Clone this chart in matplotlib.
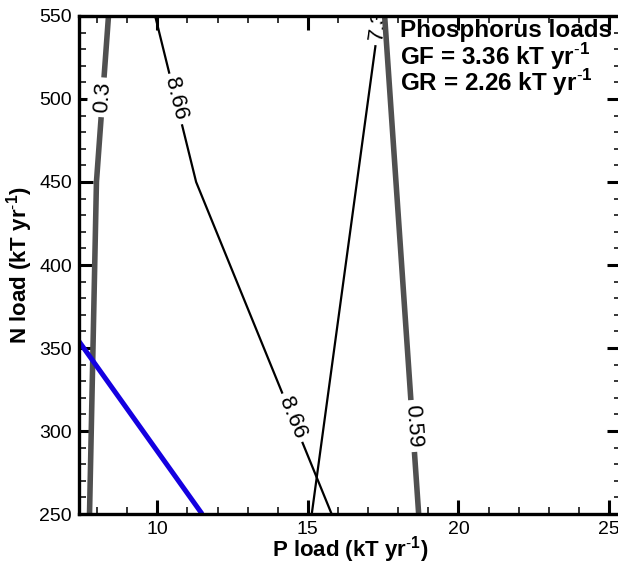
import numpy as np
import matplotlib
matplotlib.use("Agg")
import matplotlib.pyplot as plt
from matplotlib.ticker import MultipleLocator

plt.rcParams['font.family'] = ['Liberation Sans', 'DejaVu Sans']
plt.rcParams['mathtext.fontset'] = 'custom'
plt.rcParams['mathtext.rm'] = 'Liberation Sans'
plt.rcParams['mathtext.bf'] = 'Liberation Sans:bold'

# contour traces: P load (x) vs N load (y)
p_03 = [7.75, 7.98, 8.38]
n_03 = [250, 450, 550]
p_866 = [15.79, 11.29, 9.93]
n_866 = [250, 450, 550]
p_7 = [15.13, 17.38]
n_7 = [250, 550]
p_059 = [18.68, 17.55]
n_059 = [250, 550]
p_blue = [7.40, 11.49]
n_blue = [354, 250]

# (value text, line x, line y, N position of label)
labels = [
    ("0.3", p_03, n_03, 501),
    ("8.66", p_866, n_866, 500),
    ("8.66", p_866, n_866, 308),
    ("7.38", p_7, n_7, 548),
    ("0.59", p_059, n_059, 303),
]

fig = plt.figure(figsize=(6.18, 5.63), dpi=100)
ax = fig.add_axes([0.1278, 0.0870, 0.8771, 0.8846])
ax.set_xlim(7.4, 25.4)
ax.set_ylim(250, 550)

gray = '#505050'
ax.plot(p_866, n_866, color='black', lw=1.6, zorder=2)
ax.plot(p_7, n_7, color='black', lw=1.6, zorder=2)
ax.plot(p_03, n_03, color=gray, lw=4.0, zorder=2.4, solid_capstyle='butt')
ax.plot(p_059, n_059, color=gray, lw=4.0, zorder=2.4, solid_capstyle='butt')
ax.plot(p_blue, n_blue, color='#1400e0', lw=3.6, zorder=2.45, solid_capstyle='butt')


def place_label(txt, xs, ys, n, z):
    xs = np.asarray(xs, float)
    ys = np.asarray(ys, float)
    order = np.argsort(ys)
    x = np.interp(n, ys[order], xs[order])
    i = np.searchsorted(ys[order], n)
    i = min(max(i, 1), len(ys) - 1)
    a = ax.transData.transform((xs[order][i - 1], ys[order][i - 1]))
    b = ax.transData.transform((xs[order][i], ys[order][i]))
    ang = np.degrees(np.arctan2(b[1] - a[1], b[0] - a[0]))
    if ang > 90:
        ang -= 180
    elif ang < -90:
        ang += 180
    ax.text(x, n, txt, rotation=ang, rotation_mode='anchor', ha='center', va='center',
            fontsize=16, zorder=z, clip_on=True,
            bbox=dict(boxstyle='square,pad=0.2', fc='white', ec='none'))


for txt, xs, ys, n in labels:
    # the 7.38 label sits under the 0.59 trace
    z = 2.2 if txt == "7.38" else 2.5
    place_label(txt, xs, ys, n, z)

ax.xaxis.set_major_locator(MultipleLocator(5))
ax.xaxis.set_minor_locator(MultipleLocator(1))
ax.yaxis.set_major_locator(MultipleLocator(50))
ax.yaxis.set_minor_locator(MultipleLocator(10))
ax.tick_params(which='both', direction='in', top=True, right=True)
ax.tick_params(which='major', length=10, width=2.2, labelsize=14, pad=5)
ax.tick_params(which='minor', length=5, width=1.1)
for s in ax.spines.values():
    s.set_linewidth(2.4)
    s.set_zorder(3)

sup = r'$^{\mathbf{\text{-}1}}$'
ax.set_xlabel('P load (kT yr' + sup + ')', fontsize=16, fontweight='bold', labelpad=-3)
ax.set_ylabel('N load (kT yr' + sup + ')', fontsize=16, fontweight='bold', labelpad=3)

fig.text(400 / 618, 1 - 31 / 563, 'Phosphorus loads', fontsize=17.5, fontweight='bold', va='center')
fig.text(400 / 618, 1 - 57 / 563, 'GF = 3.36 kT yr' + sup, fontsize=17.5, fontweight='bold', va='center')
fig.text(400 / 618, 1 - 83 / 563, 'GR = 2.26 kT yr' + sup, fontsize=17.5, fontweight='bold', va='center')

fig.savefig('out.png', dpi=100)
